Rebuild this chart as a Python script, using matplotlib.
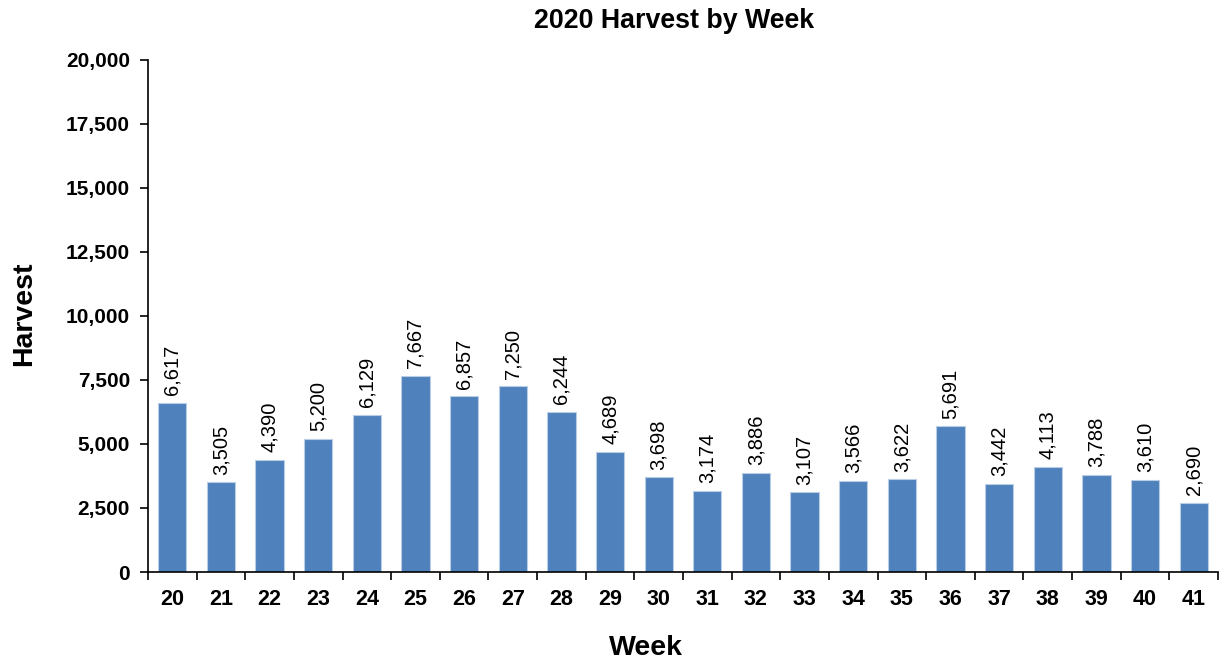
import matplotlib
matplotlib.use("Agg")
import matplotlib.pyplot as plt
from matplotlib.ticker import FuncFormatter, FixedLocator, NullFormatter

plt.rcParams['font.family'] = ['Liberation Sans', 'DejaVu Sans']

weeks = [20, 21, 22, 23, 24, 25, 26, 27, 28, 29, 30, 31, 32, 33, 34, 35, 36, 37, 38, 39, 40, 41]
harvest = [6617, 3505, 4390, 5200, 6129, 7667, 6857, 7250, 6244, 4689, 3698,
           3174, 3886, 3107, 3566, 3622, 5691, 3442, 4113, 3788, 3610, 2690]

fig = plt.figure(figsize=(12.2, 6.64), dpi=100)
ax = fig.add_axes([148 / 1220, 92 / 664, 1070 / 1220, 512 / 664])

x = list(range(len(weeks)))
bars = ax.bar(x, harvest, width=0.58, color='#4F81BD', edgecolor='#B9CDE5', linewidth=0.8)

for xi, v in zip(x, harvest):
    ax.text(xi, v + 300, f"{v:,}", rotation=90, ha='center', va='bottom', fontsize=14.5)

ax.set_xlim(-0.5, len(weeks) - 0.5)
ax.set_ylim(0, 20000)
ax.set_yticks(range(0, 20001, 2500))
ax.yaxis.set_major_formatter(FuncFormatter(lambda v, p: f"{int(v):,}"))

# category labels centred, tick marks on the boundaries
ax.set_xticks(x)
ax.set_xticklabels([str(w) for w in weeks], fontsize=15.5, fontweight='bold')
ax.xaxis.set_minor_locator(FixedLocator([i - 0.5 for i in range(len(weeks) + 1)]))
ax.xaxis.set_minor_formatter(NullFormatter())
ax.tick_params(axis='x', which='major', length=0, pad=12)
ax.tick_params(axis='x', which='minor', length=6, width=1.2, direction='out')
ax.tick_params(axis='y', length=6, width=1.2, direction='out', labelsize=15, pad=7)
for lbl in ax.get_yticklabels():
    lbl.set_fontweight('bold')

for s in ['top', 'right']:
    ax.spines[s].set_visible(False)
for s in ['left', 'bottom']:
    ax.spines[s].set_linewidth(1.2)

fig.text(646 / 1220, 1 - 648 / 664, 'Week', ha='center', va='center',
         fontsize=20.5, fontweight='bold')
fig.text(24 / 1220, 1 - 314 / 664, 'Harvest', ha='center', va='center', rotation=90,
         fontsize=20.5, fontweight='bold')
fig.text(674 / 1220, 1 - 21 / 664, '2020 Harvest by Week', ha='center', va='center',
         fontsize=19.3, fontweight='bold')

fig.savefig('out.png', dpi=100)
